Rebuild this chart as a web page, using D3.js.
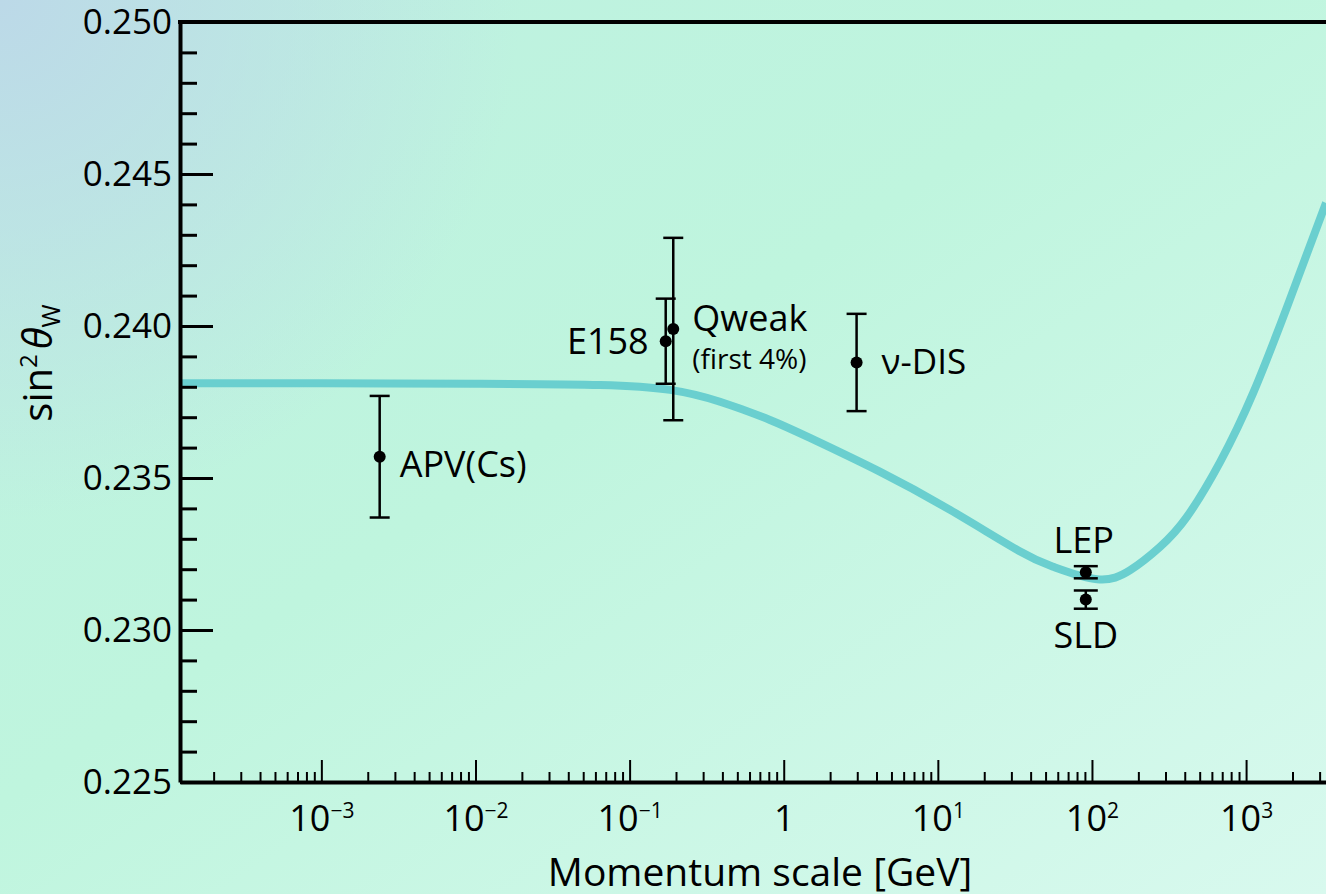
<!DOCTYPE html>
<html>
<head>
<meta charset="utf-8">
<script src="https://cdn.jsdelivr.net/npm/d3@7"></script>
<style>
  html, body { margin: 0; padding: 0; overflow: hidden; }
  svg { display: block; font-family: "Open Sans", "Noto Sans", sans-serif; }
  .axis path, .axis line { stroke: #000; }
  .axis text { fill: #000; font-family: "Open Sans", "Noto Sans", sans-serif; }
</style>
</head>
<body>
<div id="chart"></div>
<script>
// running weak mixing angle
var curveQ = [1.21e-4, 1e-3, 1e-2, 0.0643, 0.183, 0.386, 0.814, 1.48, 4.2, 12.0, 34.2, 56, 108, 177, 277, 414, 679, 1112, 1845, 3300]
var curveS = [0.23812, 0.23812, 0.23810, 0.23806, 0.23790, 0.23751, 0.23691, 0.23632, 0.23521, 0.23395, 0.23258, 0.23208, 0.23167, 0.23197, 0.23274, 0.23373, 0.23553, 0.23780, 0.24063, 0.24405]

// measurements
var expNames = ['APV(Cs)', 'E158', 'Qweak', 'ν-DIS', 'LEP', 'SLD']
var expQ = [0.00239, 0.1715, 0.192, 2.97, 91.19, 91.19]
var expS = [0.2357, 0.2395, 0.2399, 0.2388, 0.2319, 0.2310]
var expErr = [0.0020, 0.0014, 0.0030, 0.0016, 0.0002, 0.0003]

// ticks
var yMajor = [0.225, 0.230, 0.235, 0.240, 0.245, 0.250]
var yLabels = ['0.225', '0.230', '0.235', '0.240', '0.245', '0.250']
var xMajor = [1e-3, 1e-2, 1e-1, 1, 10, 100, 1000]
var xExp = ['−3', '−2', '−1', '', '1', '2', '3']

var W = 1326, H = 894
var svg = d3.select('#chart').append('svg').attr('width', W).attr('height', H)

// background
var defs = svg.append('defs')
var lg = defs.append('linearGradient').attr('id', 'bg')
    .attr('x1', 0).attr('y1', 0).attr('x2', 1).attr('y2', 1)
lg.append('stop').attr('offset', '0').attr('stop-color', '#bdf0e0')
lg.append('stop').attr('offset', '0.45').attr('stop-color', '#bff5de')
lg.append('stop').attr('offset', '1').attr('stop-color', '#d8f9ee')
var rg = defs.append('radialGradient').attr('id', 'glow')
    .attr('gradientUnits', 'userSpaceOnUse')
    .attr('cx', 0).attr('cy', 0).attr('r', 520)
rg.append('stop').attr('offset', '0').attr('stop-color', '#bcd9e8').attr('stop-opacity', 1)
rg.append('stop').attr('offset', '1').attr('stop-color', '#bcd9e8').attr('stop-opacity', 0)
svg.append('rect').attr('width', W).attr('height', H).attr('fill', 'url(#bg)')
svg.append('rect').attr('width', W).attr('height', H).attr('fill', 'url(#glow)')

var margin = {top: 22, right: 0, bottom: 112, left: 180}
var plotL = margin.left, plotR = W - margin.right
var plotT = margin.top, plotB = H - margin.bottom
var x = d3.scaleLog().domain([1.21e-4, 3300]).range([plotL, plotR])
var y = d3.scaleLinear().domain([0.225, 0.250]).range([plotB, plotT])

// minor tick positions
var yMinor = d3.range(0.225, 0.2501, 0.001).filter(function(v) {
    return Math.abs(v * 200 - Math.round(v * 200)) > 1e-6
})
var xMinor = []
for (var k = -4; k <= 3; k++) {
    for (var m = 2; m <= 9; m++) {
        var v = m * Math.pow(10, k)
        if (v > 1.21e-4 && v < 3300) xMinor.push(v)
    }
}

// curve
var line = d3.line()
    .x(function(d, i) { return x(curveQ[i]) })
    .y(function(d) { return y(d) })
    .curve(d3.curveNatural)
svg.append('path')
    .datum(curveS)
    .attr('d', line)
    .style('fill', 'none')
    .style('stroke', '#6acfcf')
    .style('stroke-width', 8)

// y axis
svg.append('g')
    .attr('class', 'axis')
    .attr('transform', 'translate(' + plotL + ',0)')
    .call(d3.axisLeft(y).tickValues(yMinor).tickSize(-17).tickFormat(''))
    .call(function(g) { g.select('.domain').remove() })
    .selectAll('line').style('stroke-width', 3)

var yax = svg.append('g')
    .attr('class', 'axis')
    .attr('transform', 'translate(' + plotL + ',0)')
    .call(d3.axisLeft(y).tickValues(yMajor).tickSize(-33).tickSizeOuter(0).tickPadding(8)
        .tickFormat(function(d, i) { return yLabels[i] }))
yax.select('.domain').style('stroke-width', 4)
yax.selectAll('line').style('stroke-width', 3)
yax.selectAll('text').style('font-size', '35px')

// x axis
svg.append('g')
    .attr('class', 'axis')
    .attr('transform', 'translate(0,' + plotB + ')')
    .call(d3.axisBottom(x).tickValues(xMinor).tickSize(-10).tickFormat(''))
    .call(function(g) { g.select('.domain').remove() })
    .selectAll('line').style('stroke-width', 2)

var xax = svg.append('g')
    .attr('class', 'axis')
    .attr('transform', 'translate(0,' + plotB + ')')
    .call(d3.axisBottom(x).tickValues(xMajor).tickSize(-22).tickSizeOuter(0).tickPadding(23))
xax.select('.domain').style('stroke-width', 4)
xax.selectAll('line').style('stroke-width', 2)
xax.selectAll('text').each(function(d, i) {
    var t = d3.select(this).text('').style('font-size', '36px')
    if (xExp[i] === '') {
        t.text('1')
        return
    }
    t.append('tspan').text('10')
    t.append('tspan').attr('dy', -13).style('font-size', '21px').text(xExp[i])
})

// top frame
svg.append('line')
    .attr('x1', plotL - 2).attr('x2', plotR)
    .attr('y1', plotT).attr('y2', plotT)
    .style('stroke', '#000').style('stroke-width', 4)

// error bars
var pts = svg.append('g')
expQ.forEach(function(q, i) {
    var cx = x(q), y0 = y(expS[i] - expErr[i]), y1 = y(expS[i] + expErr[i])
    var cap = i >= 4 ? 12 : 10
    pts.append('line').attr('x1', cx).attr('x2', cx).attr('y1', y0).attr('y2', y1)
        .style('stroke', '#000').style('stroke-width', 2.5)
    pts.append('line').attr('x1', cx - cap).attr('x2', cx + cap).attr('y1', y0).attr('y2', y0)
        .style('stroke', '#000').style('stroke-width', 2.5)
    pts.append('line').attr('x1', cx - cap).attr('x2', cx + cap).attr('y1', y1).attr('y2', y1)
        .style('stroke', '#000').style('stroke-width', 2.5)
    pts.append('circle').attr('cx', cx).attr('cy', y(expS[i])).attr('r', 6).style('fill', '#000')
})

// labels next to the points
function label(i, dx, dy, anchor, size) {
    return svg.append('text')
        .attr('x', x(expQ[i]) + dx)
        .attr('y', y(expS[i]) + dy)
        .attr('text-anchor', anchor)
        .style('font-size', size + 'px')
        .style('fill', '#000')
        .text(expNames[i])
}
label(0, 20, 20, 'start', 36)
label(1, -17, 13, 'end', 36)
label(2, 19, 2, 'start', 36)
svg.append('text')
    .attr('x', x(expQ[2]) + 19)
    .attr('y', y(expS[2]) + 40)
    .style('font-size', '28px')
    .style('fill', '#000')
    .text('(first 4%)')
label(3, 25, 12, 'start', 35)
label(4, -2, -19, 'middle', 36)
label(5, 0, 48, 'middle', 36)

// axis titles
svg.append('text')
    .attr('x', 760).attr('y', 886)
    .attr('text-anchor', 'middle')
    .style('font-size', '39px')
    .style('fill', '#000')
    .text('Momentum scale [GeV]')

var yt = svg.append('text')
    .attr('transform', 'translate(52,363) rotate(-90)')
    .attr('text-anchor', 'middle')
    .style('font-size', '40px')
    .style('fill', '#000')
yt.append('tspan').text('sin')
yt.append('tspan').attr('dy', -15).style('font-size', '24px').text('2')
yt.append('tspan').attr('dy', 15).attr('dx', 5).style('font-style', 'italic').text('θ')
yt.append('tspan').attr('dy', 8).style('font-size', '25px').text('W')
</script>
</body>
</html>
